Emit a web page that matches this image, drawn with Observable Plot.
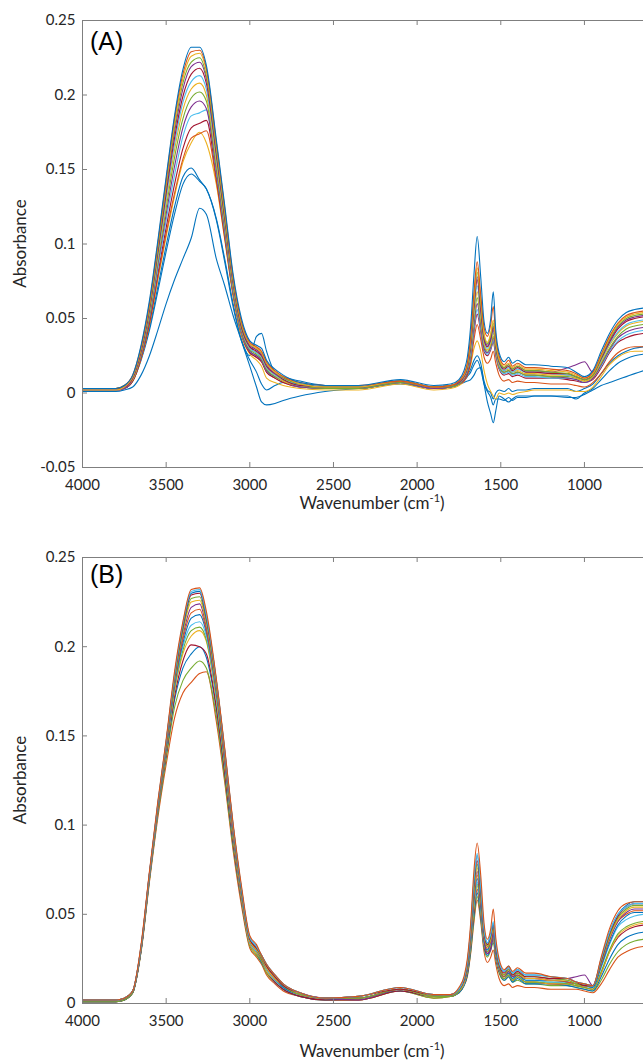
<!DOCTYPE html>
<html>
<head>
<meta charset="utf-8">
<script src="https://cdn.jsdelivr.net/npm/d3@7"></script>
<script src="https://cdn.jsdelivr.net/npm/@observablehq/plot@0.6"></script>
<style>
  html, body { margin: 0; padding: 0; background: #fff; }
  #chart { width: 643px; height: 1060px; overflow: hidden; }
  #chart svg { display: block; }
</style>
</head>
<body>
<div id="chart"></div>
<script>
// Wavenumber grid (cm-1) shared by all spectra
const wavenumbers = [4000,3800,3750,3700,3650,3600,3550,3500,3450,3400,3350,3300,3260,3200,3150,3100,3050,3000,2960,2930,2900,2850,2800,2700,2550,
  2350,2100,1900,1800,1750,1720,1700,1680,1660,1641,1620,1600,1580,1560,1545,1530,1510,1480,1453,1430,1400,1350,1300,1200,1100,1050,1000,950,900,850,800,750,700,647];

const xTicks = [4000, 3500, 3000, 2500, 2000, 1500, 1000];
const yTicksA = [-0.05, 0, 0.05, 0.1, 0.15, 0.2, 0.25];
const yTicksB = [0, 0.05, 0.1, 0.15, 0.2, 0.25];

// Panel (A) spectra, absorbance x 1000
const A01 = [1,1,2,4,12,25,42,60,76,90,104,124,120,90,72,52,35,18,4,-6,-8,-7,-5,-2,1,
  3,6,3,4,6,7,8,9,12,16,17,6,-6,-14,-20,-12,-2,-4,-6,-4,-2,-2,-2,-2,-3,-3,-1,2,5,7,9,11,13,15];
const A02 = [2,2,3,8,23,44,71,99,125,145,151,143,137,117,90,60,36,25,38,40,28,14,11,8,5,
  4,7,3,4,6,9,12,16,22,25,20,8,2,0,-4,0,2,1,3,1,2,2,3,3,3,1,3,6,13,20,25,28,30,31];
const A03 = [1,2,3,8,22,42,68,95,120,140,147,142,137,116,88,58,35,22,14,6,2,5,7,6,4,
  4,7,3,4,6,8,11,14,19,22,16,6,1,-3,-8,-4,-4,-5,-3,-5,-3,-3,-2,-2,-2,-4,0,3,9,15,20,23,25,26];
const A04 = [2,2,3,8,23,46,76,105,132,155,168,175,168,140,103,65,38,26,22,18,10,7,5,3,2,
  2,6,2,3,5,8,12,19,30,35,28,15,6,1,-2,-4,0,-1,0,-1,0,1,2,2,2,1,1,4,11,19,24,27,28,28];
const A05 = [2,2,3,8,23,46,77,107,134,157,171,174,176,142,104,66,39,27,24,21,14,10,7,4,3,
  3,7,3,4,6,8,12,20,36,46,36,24,20,23,28,20,12,8,9,7,8,7,7,6,6,5,4,7,13,21,27,30,31,31];
const A06 = [2,2,3,8,24,48,80,111,140,164,178,181,183,145,106,67,40,27,24,21,14,10,7,4,3,
  3,7,3,4,6,9,13,23,41,53,41,28,25,29,34,25,16,12,13,11,12,10,10,10,9,8,7,9,17,27,34,37,39,40];
const A07 = [2,2,3,9,25,50,83,116,146,172,186,188,190,148,108,68,40,28,25,22,15,11,8,4,3,
  3,7,3,4,6,9,14,24,43,56,43,29,26,30,35,26,17,13,14,12,13,11,11,10,10,9,7,10,18,28,35,39,41,42];
const A08 = [2,2,3,9,25,51,86,120,152,178,192,196,191,150,110,69,41,28,25,22,15,11,8,4,3,
  3,7,3,4,6,9,14,26,46,60,46,30,27,31,37,27,18,14,15,13,14,12,12,11,10,9,7,10,19,29,37,41,43,44];
const A09 = [2,2,4,9,26,52,88,124,158,184,198,202,196,152,112,70,42,29,26,23,16,11,8,5,3,
  3,7,4,4,6,10,15,27,49,64,48,32,28,32,38,28,18,14,15,13,14,12,12,11,11,10,8,11,20,30,38,43,45,46];
const A10 = [3,3,4,9,27,54,90,128,163,190,204,208,200,155,114,72,43,30,27,24,17,12,8,5,4,
  4,8,4,5,7,10,16,29,52,68,51,33,29,33,40,29,19,15,16,14,15,13,13,12,12,10,8,11,21,32,40,45,47,48];
const A11 = [2,2,4,10,28,55,92,131,167,195,209,213,204,158,116,73,44,30,27,24,17,12,9,5,4,
  4,8,4,5,7,11,16,30,55,72,54,35,30,35,42,30,20,15,17,14,16,14,14,13,12,11,9,12,22,33,41,46,48,49];
const A12 = [3,3,4,10,28,56,94,134,171,199,214,218,208,160,117,74,44,31,28,25,18,13,9,5,4,
  4,8,4,5,7,11,17,32,58,76,56,36,31,36,44,31,21,16,18,15,17,14,14,13,13,11,9,12,23,34,43,48,50,51];
const A13 = [2,2,4,10,29,57,96,137,175,204,219,222,211,162,119,75,45,32,29,26,19,13,10,6,4,
  4,8,4,5,7,11,17,33,60,78,58,37,32,37,45,32,21,17,19,16,18,15,15,14,17,19,21,14,24,35,44,49,51,52];
const A14 = [3,3,5,11,30,58,97,139,178,208,222,225,213,164,120,76,46,33,30,27,20,14,10,6,4,
  4,8,4,5,8,12,18,35,62,81,61,39,33,39,47,33,22,17,19,16,18,15,15,14,13,11,9,12,24,36,45,50,52,53];
const A15 = [2,2,4,11,30,59,99,141,181,211,226,228,216,166,122,77,47,33,30,27,20,14,11,6,4,
  4,8,4,5,8,12,19,36,64,84,63,40,34,40,49,34,23,18,20,17,19,16,16,15,14,12,10,13,25,37,46,51,53,54];
const A16 = [3,3,5,12,31,60,100,143,184,214,229,230,218,168,124,78,48,34,31,28,21,15,11,7,5,
  5,8,4,5,8,13,20,38,68,88,66,44,38,46,58,38,25,19,22,18,20,17,17,16,15,13,10,14,26,38,47,52,54,55];
const A17 = [3,3,5,12,32,62,102,145,186,217,232,232,220,170,126,80,50,35,32,30,22,16,12,7,5,
  5,9,5,6,9,15,24,45,80,105,78,48,40,50,68,42,27,21,24,20,22,19,19,18,17,14,11,15,28,40,49,54,56,57];

// Panel (B) spectra, absorbance x 1000
const B01 = [1,1,2,6,29,68,104,134,160,174,180,185,186,158,124,86,55,31,26,22,16,11,7,4,2,
  2,7,3,4,6,10,15,28,46,58,46,29,23,26,30,22,14,10,11,9,10,9,9,8,8,8,7,6,11,19,26,29,31,32];
const B02 = [1,1,2,6,29,69,106,137,166,181,188,192,188,161,126,88,57,32,27,23,17,12,8,4,2,
  2,7,3,4,6,10,16,29,48,60,48,31,26,30,34,25,17,13,15,12,13,11,11,10,10,9,8,7,13,22,29,33,35,36];
const B03 = [2,2,3,7,30,70,107,139,170,188,196,200,194,165,129,90,58,33,28,23,18,12,8,4,2,
  3,7,4,4,6,10,16,30,50,62,49,32,27,31,36,26,18,13,15,12,14,11,11,11,10,9,8,7,15,25,33,37,39,40];
const B04 = [1,1,2,6,30,70,108,140,172,192,201,200,196,166,130,91,58,33,28,24,18,12,8,4,2,
  2,7,4,4,7,11,17,32,52,64,51,33,28,32,37,27,18,14,16,13,15,12,12,11,11,10,9,8,17,29,37,41,43,44];
const B05 = [2,2,3,7,30,70,108,141,175,196,206,209,203,170,133,93,59,33,28,24,18,13,9,5,3,
  3,8,4,4,7,11,18,33,54,66,52,33,29,33,38,28,19,14,16,13,15,12,12,11,11,10,9,8,17,29,38,42,44,45];
const B06 = [1,1,2,6,30,70,108,142,176,198,209,211,204,171,134,93,60,34,29,24,19,13,9,5,3,
  3,8,4,4,7,11,18,33,55,67,53,34,29,33,38,28,19,14,16,13,15,12,12,12,11,10,9,8,18,30,39,43,45,46];
const B07 = [2,2,3,7,31,71,109,143,177,200,212,214,206,172,135,94,60,34,29,25,19,13,9,5,3,
  3,8,4,4,7,11,19,34,56,68,54,34,30,34,39,28,19,15,17,14,16,13,13,12,12,11,10,9,20,33,43,47,49,50];
const B08 = [1,1,2,6,30,71,109,143,178,202,216,218,208,174,136,95,61,35,30,25,20,14,9,5,3,
  3,8,4,4,7,12,19,35,58,70,55,35,30,35,40,29,20,15,17,14,16,13,13,13,12,11,10,9,21,34,44,49,51,51];
const B09 = [2,2,3,7,31,72,110,144,179,204,219,221,209,175,137,95,61,35,30,25,20,14,10,5,3,
  3,8,4,4,7,12,20,36,60,72,57,36,31,35,41,30,20,15,18,15,16,14,14,13,12,11,10,10,22,36,46,50,52,52];
const B10 = [1,1,2,6,30,71,109,144,180,206,222,224,211,176,138,96,62,35,30,26,20,14,10,5,3,
  2,8,4,5,7,12,20,37,62,74,58,36,28,30,40,29,20,16,18,15,17,14,14,13,14,15,16,10,22,36,46,51,53,53];
const B11 = [2,2,3,7,31,72,110,145,181,208,225,226,213,177,139,97,62,35,30,26,20,14,10,5,3,
  4,8,4,5,7,12,21,38,63,76,60,38,32,36,42,31,21,16,19,16,17,14,14,13,13,11,10,10,23,37,47,52,54,54];
const B12 = [1,1,2,6,31,72,110,145,181,209,227,228,214,178,140,98,63,36,31,26,21,15,10,5,3,
  3,8,4,4,7,13,21,39,65,78,61,39,32,37,43,31,21,16,19,16,17,15,15,14,13,11,10,10,23,38,48,53,55,55];
const B13 = [2,2,3,7,32,73,111,146,183,211,229,230,216,180,141,99,64,36,31,27,21,15,10,6,3,
  4,8,5,5,8,13,22,40,67,80,63,40,33,38,44,32,22,17,20,16,18,15,15,14,14,12,10,10,24,39,49,54,56,56];
const B14 = [2,2,3,7,32,73,112,147,184,212,230,231,217,181,142,100,64,37,32,27,22,16,11,6,3,
  4,9,5,5,8,14,23,42,69,83,65,41,34,39,45,33,23,18,21,17,19,16,16,15,14,12,11,10,25,40,50,55,57,57];
const B15 = [2,2,3,7,32,73,112,147,184,213,231,232,218,181,142,100,65,37,32,27,22,16,11,6,3,
  4,9,5,5,8,14,23,42,70,84,66,42,34,39,46,34,23,18,20,17,19,16,16,15,14,12,11,10,25,40,50,54,56,56];
const B16 = [2,2,3,7,33,74,113,148,186,214,232,233,220,182,143,101,66,38,33,27,22,16,11,6,3,
  4,9,5,5,9,15,25,45,75,90,72,45,36,42,53,37,25,19,21,18,20,17,17,15,14,12,11,10,26,42,52,56,57,57];

const seriesA = [A01,A02,A03,A04,A05,A06,A07,A08,A09,A10,A11,A12,A13,A14,A15,A16,A17];
const namesA = seriesA.map((_, i) => "A" + String(i + 1).padStart(2, "0"));
const seriesB = [B01,B02,B03,B04,B05,B06,B07,B08,B09,B10,B11,B12,B13,B14,B15,B16];
const namesB = seriesB.map((_, i) => "B" + String(i + 1).padStart(2, "0"));

// MATLAB default line colours
const BLUE = "#0072BD", ORANGE = "#D95319", YELLOW = "#EDB120", PURPLE = "#7E2F8E",
      GREEN = "#77AC30", CYAN = "#4DBEEE", RED = "#A2142F";
const colorsA = [BLUE,BLUE,BLUE,YELLOW,ORANGE,RED,CYAN,PURPLE,GREEN,YELLOW,CYAN,RED,PURPLE,GREEN,YELLOW,ORANGE,BLUE];
const colorsB = [ORANGE,GREEN,BLUE,RED,YELLOW,GREEN,CYAN,BLUE,ORANGE,PURPLE,YELLOW,GREEN,RED,BLUE,CYAN,ORANGE];

// sanity check of lengths
[...seriesA, ...seriesB].forEach((s, i) => {
  if (s.length !== wavenumbers.length) throw new Error("series " + i + " has " + s.length + " values");
});

function toRows(names, series) {
  return series.flatMap((vals, i) => vals.map((v, j) => ({id: names[i], wn: wavenumbers[j], a: v / 1000})));
}

const W = 643;
const AXIS = "#7f7f7f";
const TEXT = "#262626";

function makePanel(o) {
  const fw = W - o.ml;
  const fh = o.h - o.mt - o.mb;
  const svg = Plot.plot({
    width: W,
    height: o.h,
    marginLeft: o.ml,
    marginRight: 0,
    marginTop: o.mt,
    marginBottom: o.mb,
    style: {fontFamily: "Lato, 'Open Sans', sans-serif", fontSize: "15px", color: TEXT, background: "#fff", overflow: "visible"},
    x: {domain: [4000, 647], label: null},
    y: {domain: o.yDomain, label: null},
    color: {domain: o.names, range: o.colors},
    marks: [
      Plot.line(o.data, {x: "wn", y: "a", z: "id", stroke: "id", strokeWidth: 1.1, curve: "monotone-x"}),
      Plot.ruleY([o.yDomain[0]], {stroke: AXIS}),
      Plot.ruleY([o.yDomain[1]], {stroke: AXIS}),
      Plot.ruleX([4000], {stroke: AXIS}),
      Plot.tickX(xTicks, {x: d => d, insetTop: fh - 5, stroke: AXIS}),
      Plot.tickX(xTicks, {x: d => d, insetBottom: fh - 5, stroke: AXIS}),
      Plot.tickY(o.yTicks, {y: d => d, insetRight: fw - 5, stroke: AXIS}),
      Plot.axisX(xTicks, {tickSize: 0, tickPadding: 12, tickFormat: d => String(d)}),
      Plot.axisY(o.yTicks, {tickSize: 0, tickPadding: 7, tickFormat: d => String(+d.toFixed(2))})
    ]
  });
  const s = d3.select(svg);
  s.append("text")
    .attr("transform", `translate(20,${o.mt + fh / 2}) rotate(-90)`)
    .attr("text-anchor", "middle").attr("dy", "0.35em")
    .attr("font-size", 17).attr("fill", TEXT)
    .text("Absorbance");
  const t = s.append("text")
    .attr("x", 372).attr("y", o.xLabelBase)
    .attr("text-anchor", "middle")
    .attr("font-size", 17).attr("fill", TEXT);
  t.append("tspan").text("Wavenumber (cm");
  t.append("tspan").attr("dy", -7).attr("font-size", 11).text("-1");
  t.append("tspan").attr("dy", 7).text(")");
  s.append("text")
    .attr("x", 90).attr("y", o.panelBase)
    .attr("text-anchor", "start")
    .attr("font-family", "'Liberation Sans', Arial, sans-serif")
    .attr("font-size", 25).attr("fill", "#000")
    .text(o.panelLabel);
  return svg;
}

const chart = document.getElementById("chart");
chart.appendChild(makePanel({
  h: 530, ml: 82, mt: 20, mb: 63,
  yDomain: [-0.05, 0.25], yTicks: yTicksA,
  names: namesA, colors: colorsA, data: toRows(namesA, seriesA),
  xLabelBase: 509, panelBase: 50, panelLabel: "(A)"
}));
chart.appendChild(makePanel({
  h: 530, ml: 82, mt: 27, mb: 57,
  yDomain: [0, 0.25], yTicks: yTicksB,
  names: namesB, colors: colorsB, data: toRows(namesB, seriesB),
  xLabelBase: 527, panelBase: 53, panelLabel: "(B)"
}));
</script>
</body>
</html>
